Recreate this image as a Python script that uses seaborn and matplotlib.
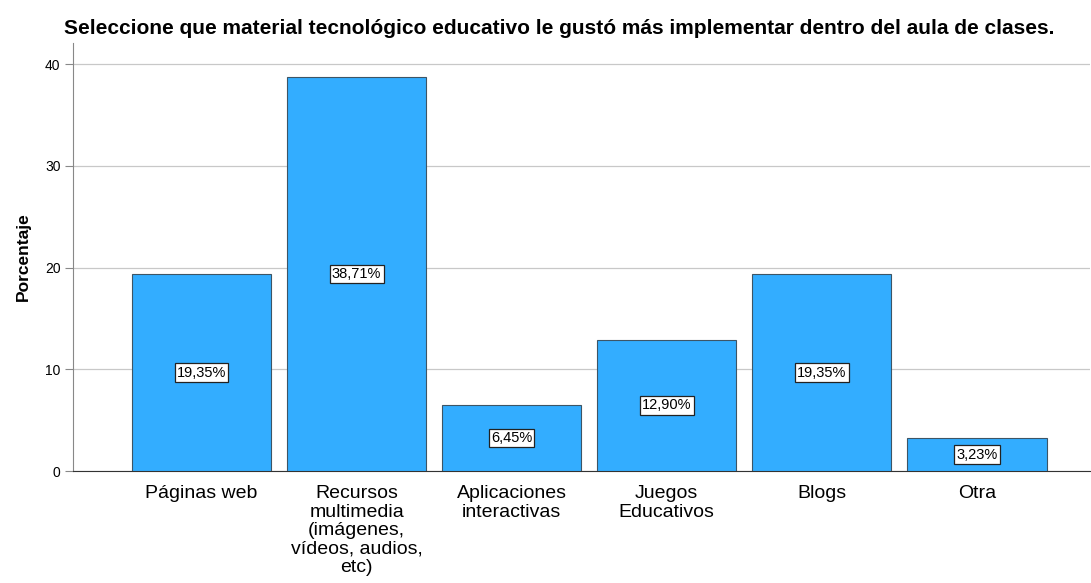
import matplotlib
matplotlib.use('Agg')
import matplotlib.pyplot as plt
import seaborn as sns
import pandas as pd

# datos
categorias = ['Páginas web', 'Recursos\nmultimedia\n(imágenes,\nvídeos, audios,\netc)',
              'Aplicaciones\ninteractivas', 'Juegos\nEducativos', 'Blogs', 'Otra']
porcentajes = [19.35, 38.71, 6.45, 12.90, 19.35, 3.23]
etiquetas = ['19,35%', '38,71%', '6,45%', '12,90%', '19,35%', '3,23%']
titulo = 'Seleccione que material tecnológico educativo le gustó más implementar dentro del aula de clases.'

df = pd.DataFrame({'categoria': categorias, 'porcentaje': porcentajes})

sns.set_style('white')
plt.rcParams['font.family'] = ['Liberation Sans', 'DejaVu Sans']
plt.rcParams['text.color'] = 'black'
plt.rcParams['axes.labelcolor'] = 'black'
plt.rcParams['xtick.color'] = 'black'
plt.rcParams['ytick.color'] = 'black'

fig = plt.figure(figsize=(10.91, 5.83), dpi=100)
ax = fig.add_axes([0.067, 0.192, 0.932, 0.734])

sns.barplot(data=df, x='categoria', y='porcentaje', color='#33adff', saturation=1,
            width=0.9, edgecolor='#3d5566', linewidth=0.8, ax=ax, zorder=3)

# etiquetas en mitad de cada barra
for i, (v, t) in enumerate(zip(porcentajes, etiquetas)):
    ax.text(i, v / 2, t, ha='center', va='center', fontsize=10.5, zorder=5,
            bbox=dict(boxstyle='square,pad=0.15', fc='white', ec='#222222', lw=0.9))

ax.set_ylim(0, 42.06)
ax.set_xlim(-0.829, 5.73)
ax.set_yticks([0, 10, 20, 30, 40])
ax.yaxis.grid(True, color='#c8c8c8', linewidth=0.9, zorder=0)
ax.set_axisbelow(True)
ax.tick_params(axis='y', labelsize=10, length=6, color='#888888', width=0.8,
               direction='out', left=True, pad=3, labelcolor='black')
ax.tick_params(axis='x', labelsize=14, length=0, pad=10, labelcolor='black')
for lbl in ax.get_xticklabels():
    lbl.set_linespacing(1.12)

ax.set_xlabel('')
ax.set_ylabel('Porcentaje', fontsize=12.5, fontweight='bold', labelpad=10)
for s in ['top', 'right']:
    ax.spines[s].set_visible(False)
ax.spines['left'].set_color('#888888')
ax.spines['bottom'].set_color('#333333')

fig.text(0.513, 0.951, titulo, ha='center', va='center', fontsize=15, fontweight='bold')

fig.savefig('out.png', dpi=100)
